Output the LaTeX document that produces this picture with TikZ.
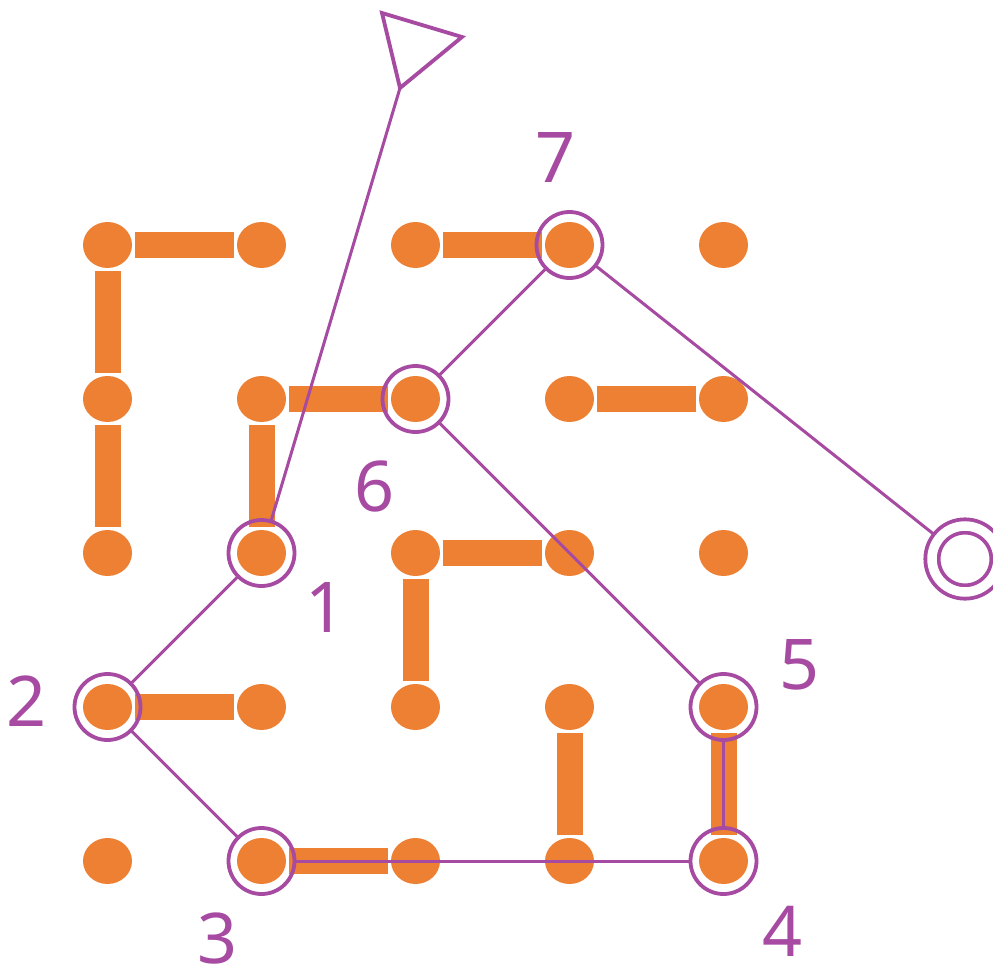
\documentclass[tikz,border=0pt]{standalone}
\usepackage{fontspec}
\setmainfont{Noto Sans}
\usepackage{tikz}
\usetikzlibrary{shapes.geometric}

\definecolor{dorange}{RGB}{237,128,50}
\definecolor{dpurple}{RGB}{166,74,162}

\begin{document}
\begin{tikzpicture}[x=1pt,y=-1pt]
\tikzset{D/.style={ellipse,fill=dorange,minimum width=49pt,minimum height=46pt,inner sep=0pt,outer sep=0pt}}
\tikzset{B/.style={draw=dorange,line width=26pt,shorten <=3pt,shorten >=3pt}}
\tikzset{R/.style={circle,draw=dpurple,line width=3.8pt,minimum size=66pt,inner sep=0pt,outer sep=0pt}}
\tikzset{E/.style={circle,draw=dpurple,line width=3.8pt,double,double distance=9.5pt,minimum size=66pt,inner sep=0pt,outer sep=8pt}}
\tikzset{L/.style={draw=dpurple,line width=3pt}}
\tikzset{N/.style={text=dpurple,font=\fontsize{70}{70}\selectfont,inner sep=0pt}}

  \useasboundingbox (0,0) rectangle (993,971);

  % dots
  \node[D] (d11) at (107.5,245) {};
  \node[D] (d21) at (261.5,245) {};
  \node[D] (d31) at (415.5,245) {};
  \node[D] (d41) at (569.5,245) {};
  \node[D] (d51) at (723.5,245) {};
  \node[D] (d12) at (107.5,399) {};
  \node[D] (d22) at (261.5,399) {};
  \node[D] (d32) at (415.5,399) {};
  \node[D] (d42) at (569.5,399) {};
  \node[D] (d52) at (723.5,399) {};
  \node[D] (d13) at (107.5,553) {};
  \node[D] (d23) at (261.5,553) {};
  \node[D] (d33) at (415.5,553) {};
  \node[D] (d43) at (569.5,553) {};
  \node[D] (d53) at (723.5,553) {};
  \node[D] (d14) at (107.5,707) {};
  \node[D] (d24) at (261.5,707) {};
  \node[D] (d34) at (415.5,707) {};
  \node[D] (d44) at (569.5,707) {};
  \node[D] (d54) at (723.5,707) {};
  \node[D] (d15) at (107.5,861) {};
  \node[D] (d25) at (261.5,861) {};
  \node[D] (d35) at (415.5,861) {};
  \node[D] (d45) at (569.5,861) {};
  \node[D] (d55) at (723.5,861) {};

  % bars
  \draw[B] (d11) -- (d21);
  \draw[B] (d31) -- (d41);
  \draw[B] (d11) -- (d12);
  \draw[B] (d12) -- (d13);
  \draw[B] (d22) -- (d32);
  \draw[B] (d42) -- (d52);
  \draw[B] (d22) -- (d23);
  \draw[B] (d33) -- (d43);
  \draw[B] (d33) -- (d34);
  \draw[B] (d14) -- (d24);
  \draw[B] (d44) -- (d45);
  \draw[B] (d54) -- (d55);
  \draw[B] (d25) -- (d35);

  % rings
  \node[R] (r1) at (d23) {};
  \node[R] (r2) at (d14) {};
  \node[R] (r3) at (d25) {};
  \node[R] (r4) at (d55) {};
  \node[R] (r5) at (d54) {};
  \node[R] (r6) at (d32) {};
  \node[R] (r7) at (d41) {};
  \node[E] (end) at (965,559) {};

  % start flag
  \coordinate (tip) at (400,88);
  \draw[dpurple,line width=3.8pt,line join=miter] (tip) -- (382,13) -- (462,37) -- cycle;

  \draw[L] (tip) -- (r1);
  \draw[L] (r1) -- (r2);
  \draw[L] (r2) -- (r3);
  \draw[L] (r3) -- (r4);
  \draw[L] (r4) -- (r5);
  \draw[L] (r5) -- (r6);
  \draw[L] (r6) -- (r7);
  \draw[L] (r7) -- (end);

  % labels
  \node[N] (l1) at (326,608) {1};
  \node[N] (l2) at (27,701) {2};
  \node[N] (l3) at (218,938) {3};
  \node[N] (l4) at (783,931) {4};
  \node[N] (l5) at (800,665) {5};
  \node[N] (l6) at (375,487) {6};
  \node[N] (l7) at (556,158) {7};
\end{tikzpicture}
\end{document}
